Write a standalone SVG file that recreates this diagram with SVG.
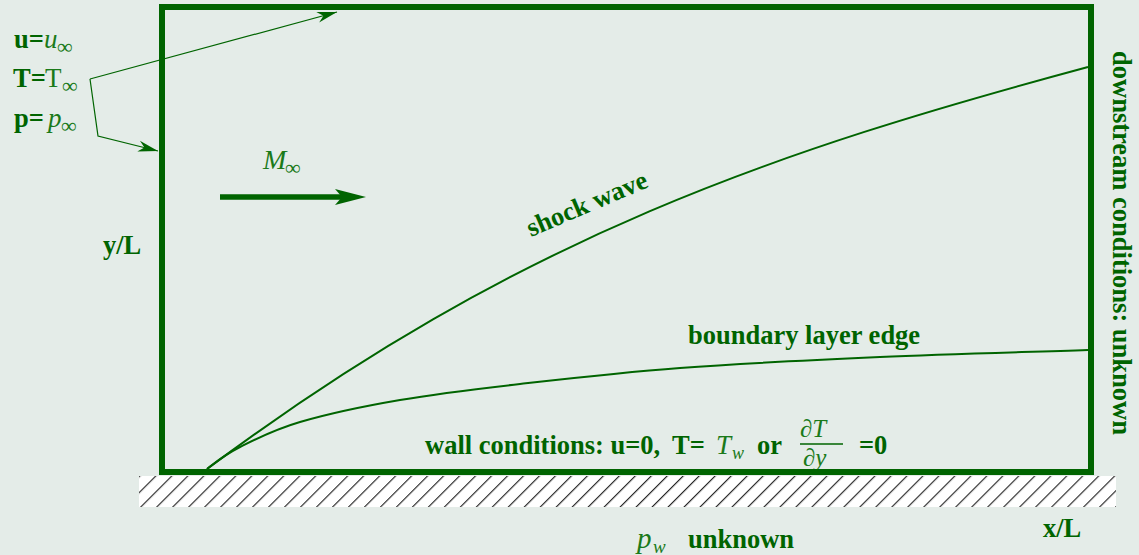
<svg xmlns="http://www.w3.org/2000/svg" width="1139" height="555" viewBox="0 0 1139 555">
<defs>
<style>
.b{font-family:"Liberation Serif","Times New Roman",serif;font-weight:bold;font-size:26.5px;fill:#006400}
.m{font-family:"Liberation Serif","Times New Roman",serif;font-style:italic;font-size:27px;fill:#1a7a1a}
.r{font-family:"Liberation Serif","Times New Roman",serif;font-size:27px;fill:#1a7a1a}
.s{font-family:"Liberation Serif","DejaVu Serif",serif;font-size:22px;fill:#1a7a1a}
.curve{fill:none;stroke:#006400;stroke-width:2}
.thin{fill:none;stroke:#006400;stroke-width:1.2}
</style>
<pattern id="hatch" patternUnits="userSpaceOnUse" x="139" y="476" width="11.3" height="10" patternTransform="rotate(45 139 476)">
<rect width="11.3" height="10" fill="#ffffff"/>
<line x1="0.6" y1="0" x2="0.6" y2="10" stroke="#1a1a1a" stroke-width="1.1"/>
</pattern>
<marker id="ah" markerWidth="22" markerHeight="12" refX="20" refY="6" orient="auto" markerUnits="userSpaceOnUse">
<path d="M0,0.5 L20,6 L0,11.5 L6,6 Z" fill="#006400"/>
</marker>
</defs>
<rect x="0" y="0" width="1139" height="555" fill="#e4ece8"/>
<rect x="139" y="476" width="977" height="31" fill="url(#hatch)"/>

<g id="connectors">
<polyline class="thin" points="90,79 337,12" marker-end="url(#ah)"/>
<polyline class="thin" points="90,79 98,136 158,151" marker-end="url(#ah)"/>
<path id="shock" class="curve" d="M207,469 C520,235 780,150 1088,67"/>
<path id="blayer" class="curve" d="M207,469 C218,460.5 224.5,454.8 240,447 C255.5,439.2 273.3,429.8 300,422 C326.7,414.2 363.3,406.3 400,400 C436.7,393.7 473.3,389.3 520,384 C566.7,378.7 620,372.5 680,368 C740,363.5 812,360 880,357 C948,354 1018.7,352.3 1088,350"/>
<line x1="220" y1="197" x2="342" y2="197" stroke="#006400" stroke-width="5.5"/>
<path d="M335,189 L366,197 L335,205 L342,197 Z" fill="#006400"/>
</g>

<g id="inflow">
<text class="b" x="14" y="48">u=</text><text class="m" x="44" y="48">u</text><text class="s" x="57" y="54">∞</text>
<text class="b" x="13" y="87">T=</text><text class="r" x="45" y="87">T</text><text class="s" x="62" y="93">∞</text>
<text class="b" x="14" y="127">p=</text><text class="m" x="48" y="127">p</text><text class="s" x="61" y="133">∞</text>
</g>

<g id="mach">
<text class="m" x="263" y="169" style="font-size:28px">M</text><text class="s" x="285" y="175">∞</text>
</g>

<g id="shock-label">
<text class="b" x="0" y="0" transform="translate(531,237) rotate(-23)">shock wave</text>
</g>

<g id="bl-label">
<text class="b" x="688" y="344">boundary layer edge</text>
</g>

<g id="ylabel"><text class="b" x="103" y="254">y/L</text></g>
<g id="xlabel"><text class="b" x="1043" y="537">x/L</text></g>

<g id="wall">
<text class="b" x="425" y="454">wall conditions: u=0,</text>
<text class="b" x="672" y="454">T=</text>
<text class="m" x="716" y="454">T</text><text class="s" x="732" y="459" style="font-style:italic;font-size:18px">w</text>
<text class="b" x="757" y="454">or</text>
<text class="m" x="800" y="437" style="font-size:25px">∂T</text>
<line x1="800" y1="444" x2="843" y2="444" stroke="#006400" stroke-width="1.5"/>
<text class="m" x="803" y="466" style="font-size:25px">∂y</text>
<text class="b" x="859" y="454">=0</text>
</g>

<g id="pw">
<text class="m" x="637" y="548" style="font-size:29px">p</text><text class="s" x="653" y="553" style="font-style:italic;font-size:19px">w</text>
<text class="b" x="688" y="548">unknown</text>
</g>

<g id="downstream">
<text class="b" x="0" y="0" text-anchor="middle" transform="translate(1113,243) rotate(90)">downstream conditions: unknown</text>
</g>

<g id="domain">
<rect x="162" y="7" width="929" height="465" fill="none" stroke="#006400" stroke-width="6"/>
</g>
</svg>
